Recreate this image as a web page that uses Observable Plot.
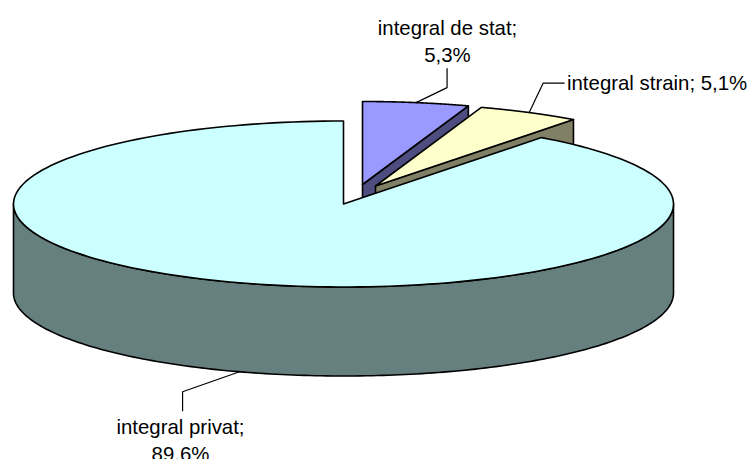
<!DOCTYPE html>
<html>
<head>
<meta charset="utf-8">
<script src="https://cdn.jsdelivr.net/npm/d3@7"></script>
<script src="https://cdn.jsdelivr.net/npm/@observablehq/plot@0.6"></script>
<style>
html,body{margin:0;padding:0;background:#fff;overflow:hidden}
svg{display:block}
</style>
</head>
<body>
<div id="chart"></div>
<script>
// Data, clockwise from twelve o'clock
const categories = ["integral de stat", "integral strain", "integral privat"];
const shares = [5.3, 5.1, 89.6];
const shareLabels = ["5,3%", "5,1%", "89,6%"];

// Layout of the 3-D pie, in the plot's coordinate space
const W = 752, H = 459;
const RX = 330, RY = 83, DEPTH = 89, WARP = 0.6;
const centers = [[362, 184], [375, 185.5], [343, 203.5]];
const topFill = ["#9999ff", "#ffffcc", "#ccffff"];
const wallFill = ["#4d4d80", "#808066", "#668080"];
const labelSep = ["\n", " ", "\n"];
const leaderBends = [[[31, -15], [31, -34]], [[14, -29.5], [35, -29.5]], [[-57, 20], [-57, 39]]];
const labelPos = [[447, 15, "middle"], [566.5, 70, "start"], [180, 414, "middle"]];

const rad = d => d * Math.PI / 180;
// Slight perspective warp of the drawn angle, zero on the ellipse axes
const rim = (c, deg, drop = 0) => {
  const t = rad(deg - WARP * Math.sin(rad(2 * deg)));
  return {x: c[0] + RX * Math.sin(t), y: c[1] - RY * Math.cos(t) + drop};
};
const arc = (c, a, b, drop = 0) =>
  d3.range(0, 181).map(i => rim(c, a + (b - a) * i / 180, drop));

// Slice angles from the shares
let acc = 0;
const slices = categories.map((name, i) => {
  const a0 = acc * 3.6; acc += shares[i];
  return {name, i, a0, a1: acc * 3.6, c: centers[i]};
});

const apex = (c, drop = 0) => ({x: c[0], y: c[1] + drop});
const topFace = s => [apex(s.c), ...arc(s.c, s.a0, s.a1)];
// Cut face at the slice's clockwise edge (seen on the two small slices)
const cutFace = s => {
  const e = rim(s.c, s.a1), e2 = rim(s.c, s.a1, DEPTH);
  return [apex(s.c), e, e2, apex(s.c, DEPTH)];
};
// Visible outer wall (front half of the rim)
const frontWall = s => {
  const a = Math.max(s.a0, 90), b = Math.min(s.a1, 270);
  return [...arc(s.c, a, b), ...arc(s.c, a, b, DEPTH).reverse()];
};

const poly = (pts, fill) => Plot.line(pts, {
  x: "x", y: "y", fill, stroke: "#000", strokeWidth: 1.6,
  curve: "linear-closed", strokeLinejoin: "round"
});

const [stat, strain, priv] = slices;
const marks = [];
[stat, strain].forEach(s => {
  marks.push(poly(cutFace(s), wallFill[s.i]));
  marks.push(poly(topFace(s), topFill[s.i]));
});
marks.push(poly(frontWall(priv), wallFill[2]));
marks.push(poly(topFace(priv), topFill[2]));

// Leader lines start on the rim at each slice's middle angle
slices.forEach(s => {
  const mid = (s.a0 + s.a1) / 2;
  const drop = mid > 90 && mid < 270 ? DEPTH : 0;
  const p = rim(s.c, mid, drop);
  const pts = [p, ...leaderBends[s.i].map(b => ({x: p.x + b[0], y: p.y + b[1]}))];
  marks.push(Plot.line(pts, {x: "x", y: "y", stroke: "#000", strokeWidth: 1.2}));
});

const labels = slices.map(s => ({
  text: s.name + ";" + labelSep[s.i] + shareLabels[s.i],
  x: labelPos[s.i][0], y: labelPos[s.i][1], anchor: labelPos[s.i][2]
}));
["middle", "start"].forEach(anchor => {
  marks.push(Plot.text(labels.filter(d => d.anchor === anchor), {
    x: "x", y: "y", text: "text", textAnchor: anchor,
    lineAnchor: "top", lineHeight: 1.33, fontSize: 20.4,
    fontFamily: "Liberation Sans", fill: "#000"
  }));
});

const chart = Plot.plot({
  width: W, height: H,
  margin: 0,
  x: {domain: [0, W], range: [0, W], axis: null},
  y: {domain: [0, H], range: [0, H], axis: null},
  style: {background: "#fff", overflow: "hidden"},
  marks
});
document.getElementById("chart").append(chart);
</script>
</body>
</html>
